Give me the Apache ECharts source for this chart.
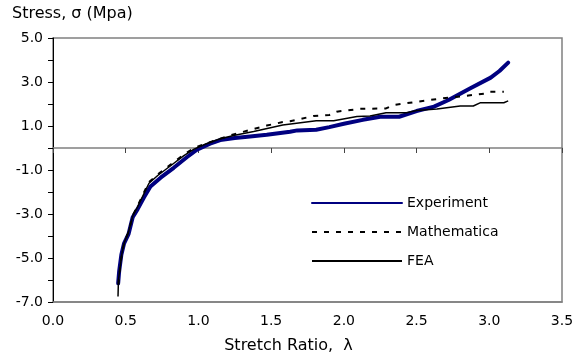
<!DOCTYPE html>
<html>
<head>
<meta charset="utf-8">
<script src="https://cdn.jsdelivr.net/npm/echarts@6/dist/echarts.min.js"></script>
<style>
html,body{margin:0;padding:0;background:#fff;}
#chart{width:577px;height:356px;}
</style>
</head>
<body>
<div id="chart"></div>
<script>
// ---- data ----
const seriesNames = ['Experiment', 'Mathematica', 'FEA'];
const xTicks = [0, 0.5, 1.0, 1.5, 2.0, 2.5, 3.0, 3.5];
const yTickLabels = [-7, -5, -3, -1, 1, 3, 5];

const expX = [0.448, 0.455, 0.47, 0.488, 0.52, 0.548, 0.582, 0.625, 0.67, 0.74, 0.83, 0.92, 0.99, 1.08, 1.15, 1.25, 1.355, 1.47, 1.63, 1.68, 1.81, 1.9, 2.0, 2.13, 2.25, 2.38, 2.5, 2.62, 2.72, 2.87, 3.01, 3.07, 3.13];
const expY = [-6.15, -5.6, -4.85, -4.35, -3.9, -3.15, -2.78, -2.25, -1.75, -1.35, -0.9, -0.42, -0.08, 0.2, 0.36, 0.45, 0.52, 0.6, 0.74, 0.8, 0.83, 0.95, 1.1, 1.28, 1.42, 1.42, 1.68, 1.88, 2.18, 2.72, 3.2, 3.5, 3.88];

const mathX = [0.45, 0.46, 0.475, 0.49, 0.52, 0.55, 0.58, 0.62, 0.66, 0.73, 0.82, 0.9, 0.97, 1.05, 1.15, 1.22, 1.355, 1.47, 1.58, 1.63, 1.79, 1.9, 1.95, 2.11, 2.29, 2.34, 2.5, 2.66, 2.82, 2.98, 3.0, 3.1];
const mathY = [-6.2, -5.5, -4.7, -4.3, -3.8, -3.05, -2.65, -2.1, -1.55, -1.15, -0.7, -0.3, 0.0, 0.2, 0.42, 0.58, 0.82, 1.02, 1.18, 1.22, 1.45, 1.5, 1.65, 1.78, 1.8, 1.95, 2.1, 2.24, 2.36, 2.48, 2.56, 2.56];

const feaX = [0.447, 0.45, 0.46, 0.475, 0.49, 0.52, 0.55, 0.58, 0.62, 0.66, 0.72, 0.82, 0.9, 0.97, 1.05, 1.149, 1.25, 1.38, 1.58, 1.81, 1.93, 2.09, 2.18, 2.29, 2.43, 2.5, 2.64, 2.8, 2.89, 2.94, 3.1, 3.13];
const feaY = [-6.75, -6.0, -5.5, -4.75, -4.3, -3.8, -3.05, -2.7, -2.15, -1.6, -1.25, -0.75, -0.35, -0.05, 0.18, 0.42, 0.58, 0.75, 1.05, 1.24, 1.24, 1.43, 1.45, 1.6, 1.6, 1.7, 1.77, 1.91, 1.91, 2.06, 2.06, 2.14];

const titleY = 'Stress, \u03c3 (Mpa)';
const titleX = 'Stretch Ratio,  \u03bb';

// ---- build ----
const FONT = 'DejaVu Sans';
const zip = (xs, ys) => xs.map((x, i) => [x, ys[i]]);
const chart = echarts.init(document.getElementById('chart'), null, {renderer: 'canvas'});

chart.setOption({
  animation: false,
  backgroundColor: '#ffffff',
  textStyle: {fontFamily: FONT},
  title: [
    {text: titleY, left: 12, top: 6, padding: 0,
     textStyle: {fontFamily: FONT, fontSize: 16, fontWeight: 'normal', color: '#000'}},
    {text: titleX, left: 'center', top: 338, padding: 0,
     textStyle: {fontFamily: FONT, fontSize: 16, fontWeight: 'normal', color: '#000'}}
  ],
  grid: {left: 53, right: 15, top: 38, bottom: 54, show: true,
         borderColor: '#808080', borderWidth: 1.5, backgroundColor: 'transparent'},
  legend: {
    data: seriesNames, orient: 'vertical', left: 311, top: 196,
    itemWidth: 90, itemHeight: 14, itemGap: 15, padding: 0,
    itemStyle: {opacity: 0},
    textStyle: {fontFamily: FONT, fontSize: 14, color: '#000', lineHeight: 14}
  },
  xAxis: [
    {type: 'value', min: xTicks[0], max: xTicks[xTicks.length - 1], interval: 0.5,
     position: 'bottom',
     axisLine: {onZero: false, lineStyle: {color: '#808080', width: 1.5}},
     axisTick: {show: false}, splitLine: {show: false},
     axisLabel: {margin: 12, color: '#000', fontFamily: FONT, fontSize: 14,
                 formatter: v => v.toFixed(1)}},
    {type: 'value', min: xTicks[0], max: xTicks[xTicks.length - 1], interval: 0.5,
     position: 'bottom',
     axisLine: {onZero: true, lineStyle: {color: '#808080', width: 1.5}},
     axisTick: {show: true, length: 5, lineStyle: {color: '#444', width: 1}},
     splitLine: {show: false}, axisLabel: {show: false}}
  ],
  yAxis: {
    type: 'value', min: -7, max: 5, interval: 1,
    axisLine: {onZero: false, lineStyle: {color: '#000', width: 1}},
    axisTick: {show: true, length: 5, lineStyle: {color: '#000'}},
    splitLine: {show: false},
    axisLabel: {margin: 10, color: '#000', fontFamily: FONT, fontSize: 14,
                formatter: v => yTickLabels.indexOf(v) >= 0 ? v.toFixed(1) : ''}
  },
  series: [
    {name: seriesNames[0], type: 'line', xAxisIndex: 0, data: zip(expX, expY),
     symbol: 'none', lineStyle: {color: '#000080', width: 4, cap: 'round', join: 'round'},
     itemStyle: {color: '#000080'}, z: 2},
    {name: seriesNames[1], type: 'line', xAxisIndex: 0, data: zip(mathX, mathY),
     symbol: 'none', lineStyle: {color: '#000', width: 2, type: [5, 7]},
     itemStyle: {color: '#000'}, z: 3},
    {name: seriesNames[2], type: 'line', xAxisIndex: 0, data: zip(feaX, feaY),
     symbol: 'none', lineStyle: {color: '#000', width: 1.5},
     itemStyle: {color: '#000'}, z: 4}
  ]
});
</script>
</body>
</html>
